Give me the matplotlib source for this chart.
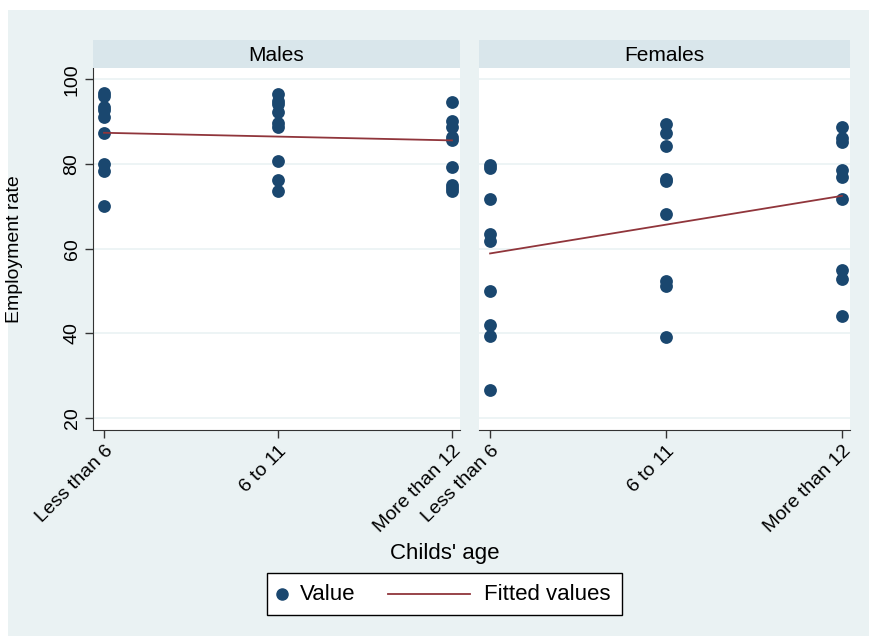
import numpy as np
import matplotlib.pyplot as plt
from matplotlib.patches import Rectangle
from matplotlib.lines import Line2D

plt.rcParams['font.family'] = ['Liberation Sans', 'DejaVu Sans']

categories = ["Less than 6", "6 to 11", "More than 12"]
panels = ["Males", "Females"]

males_lt6 = [96.8, 96.1, 93.6, 92.8, 91.2, 87.3, 80.0, 78.3, 70.1]
males_6_11 = [96.5, 94.9, 94.3, 92.4, 89.6, 88.8, 80.7, 76.2, 73.6]
males_gt12 = [94.6, 90.2, 88.8, 86.5, 85.8, 79.4, 75.1, 74.3, 73.6]
males_fit = [87.4, 86.5, 85.6]

females_lt6 = [79.8, 79.1, 71.8, 63.4, 61.9, 50.1, 41.9, 39.4, 26.7]
females_6_11 = [89.4, 87.3, 84.3, 76.6, 76.0, 68.1, 52.5, 51.2, 39.1]
females_gt12 = [88.8, 86.1, 85.3, 78.7, 77.0, 71.7, 55.0, 52.8, 44.2]
females_fit = [58.9, 65.7, 72.5]

data = {
    "Males": ([males_lt6, males_6_11, males_gt12], males_fit),
    "Females": ([females_lt6, females_6_11, females_gt12], females_fit),
}

navy = "#1A476F"
maroon = "#90353B"
bg = "#EAF2F3"
strip = "#D9E6EB"

W, H = 869, 636
fig = plt.figure(figsize=(W / 100, H / 100), dpi=100)
fig.patch.set_facecolor("white")


def fx(px):
    return px / W


def fy(py):
    return 1 - py / H


fig.patches.append(Rectangle((fx(8), 0), 1, fy(10), transform=fig.transFigure,
                             facecolor=bg, edgecolor="none", zorder=-10))

boxes = {"Males": (93, 460), "Females": (479, 850)}
top, bottom = 68, 430

for name in panels:
    x0, x1 = boxes[name]
    ax = fig.add_axes([fx(x0), fy(bottom), (x1 - x0) / W, (bottom - top) / H])
    groups, fit = data[name]
    for i, vals in enumerate(groups):
        ax.scatter([i] * len(vals), vals, s=85, color=navy, zorder=3, linewidths=0)
    ax.plot(range(len(categories)), fit, color=maroon, lw=1.3, zorder=4)

    ax.set_xlim(-0.063, 2.046)
    ax.set_ylim(17.2, 102.7)
    ax.set_xticks(range(len(categories)))
    ax.set_xticklabels(categories, rotation=45, ha="right", rotation_mode="anchor",
                       fontsize=14)
    ax.set_yticks([20, 40, 60, 80, 100])
    ax.grid(axis="y", color=bg, lw=1.2, zorder=0)
    ax.tick_params(axis="both", length=6, width=1, color="#333333", pad=3)
    for s in ["top", "right"]:
        ax.spines[s].set_visible(False)
    ax.spines["bottom"].set_color("#333333")
    ax.spines["left"].set_color("#333333")
    if name == "Males":
        ax.set_yticklabels(["20", "40", "60", "80", "100"], rotation=90,
                           va="center", fontsize=14)
        ax.set_ylabel("Employment rate", fontsize=14, va="center")
        ax.yaxis.set_label_coords((15 - x0) / (x1 - x0), 0.5)
    else:
        ax.spines["left"].set_visible(False)
        ax.tick_params(axis="y", left=False, labelleft=False)

    sx = fig.add_axes([fx(x0), fy(top), (x1 - x0) / W, 28 / H])
    sx.set_facecolor(strip)
    sx.set_xticks([])
    sx.set_yticks([])
    for s in sx.spines.values():
        s.set_visible(False)
    sx.text(0.5, 0.45, name, ha="center", va="center", fontsize=15,
            transform=sx.transAxes)

fig.text(fx(445), fy(553), "Childs' age", ha="center", va="center", fontsize=16)

# legend drawn by hand to match the Stata layout
fig.patches.append(Rectangle((fx(267), fy(615)), (622 - 267) / W, (615 - 573) / H,
                             transform=fig.transFigure, facecolor="white",
                             edgecolor="black", lw=1))
fig.add_artist(Line2D([fx(282)], [fy(594)], marker="o", ls="none", color=navy,
                      markersize=8, transform=fig.transFigure))
fig.text(fx(300), fy(595), "Value", ha="left", va="center", fontsize=16)
fig.add_artist(Line2D([fx(388), fx(470)], [fy(594), fy(594)], color=maroon, lw=1.3,
                      transform=fig.transFigure))
fig.text(fx(484), fy(595), "Fitted values", ha="left", va="center", fontsize=16)

fig.savefig("out.png", dpi=100, facecolor=fig.get_facecolor())
